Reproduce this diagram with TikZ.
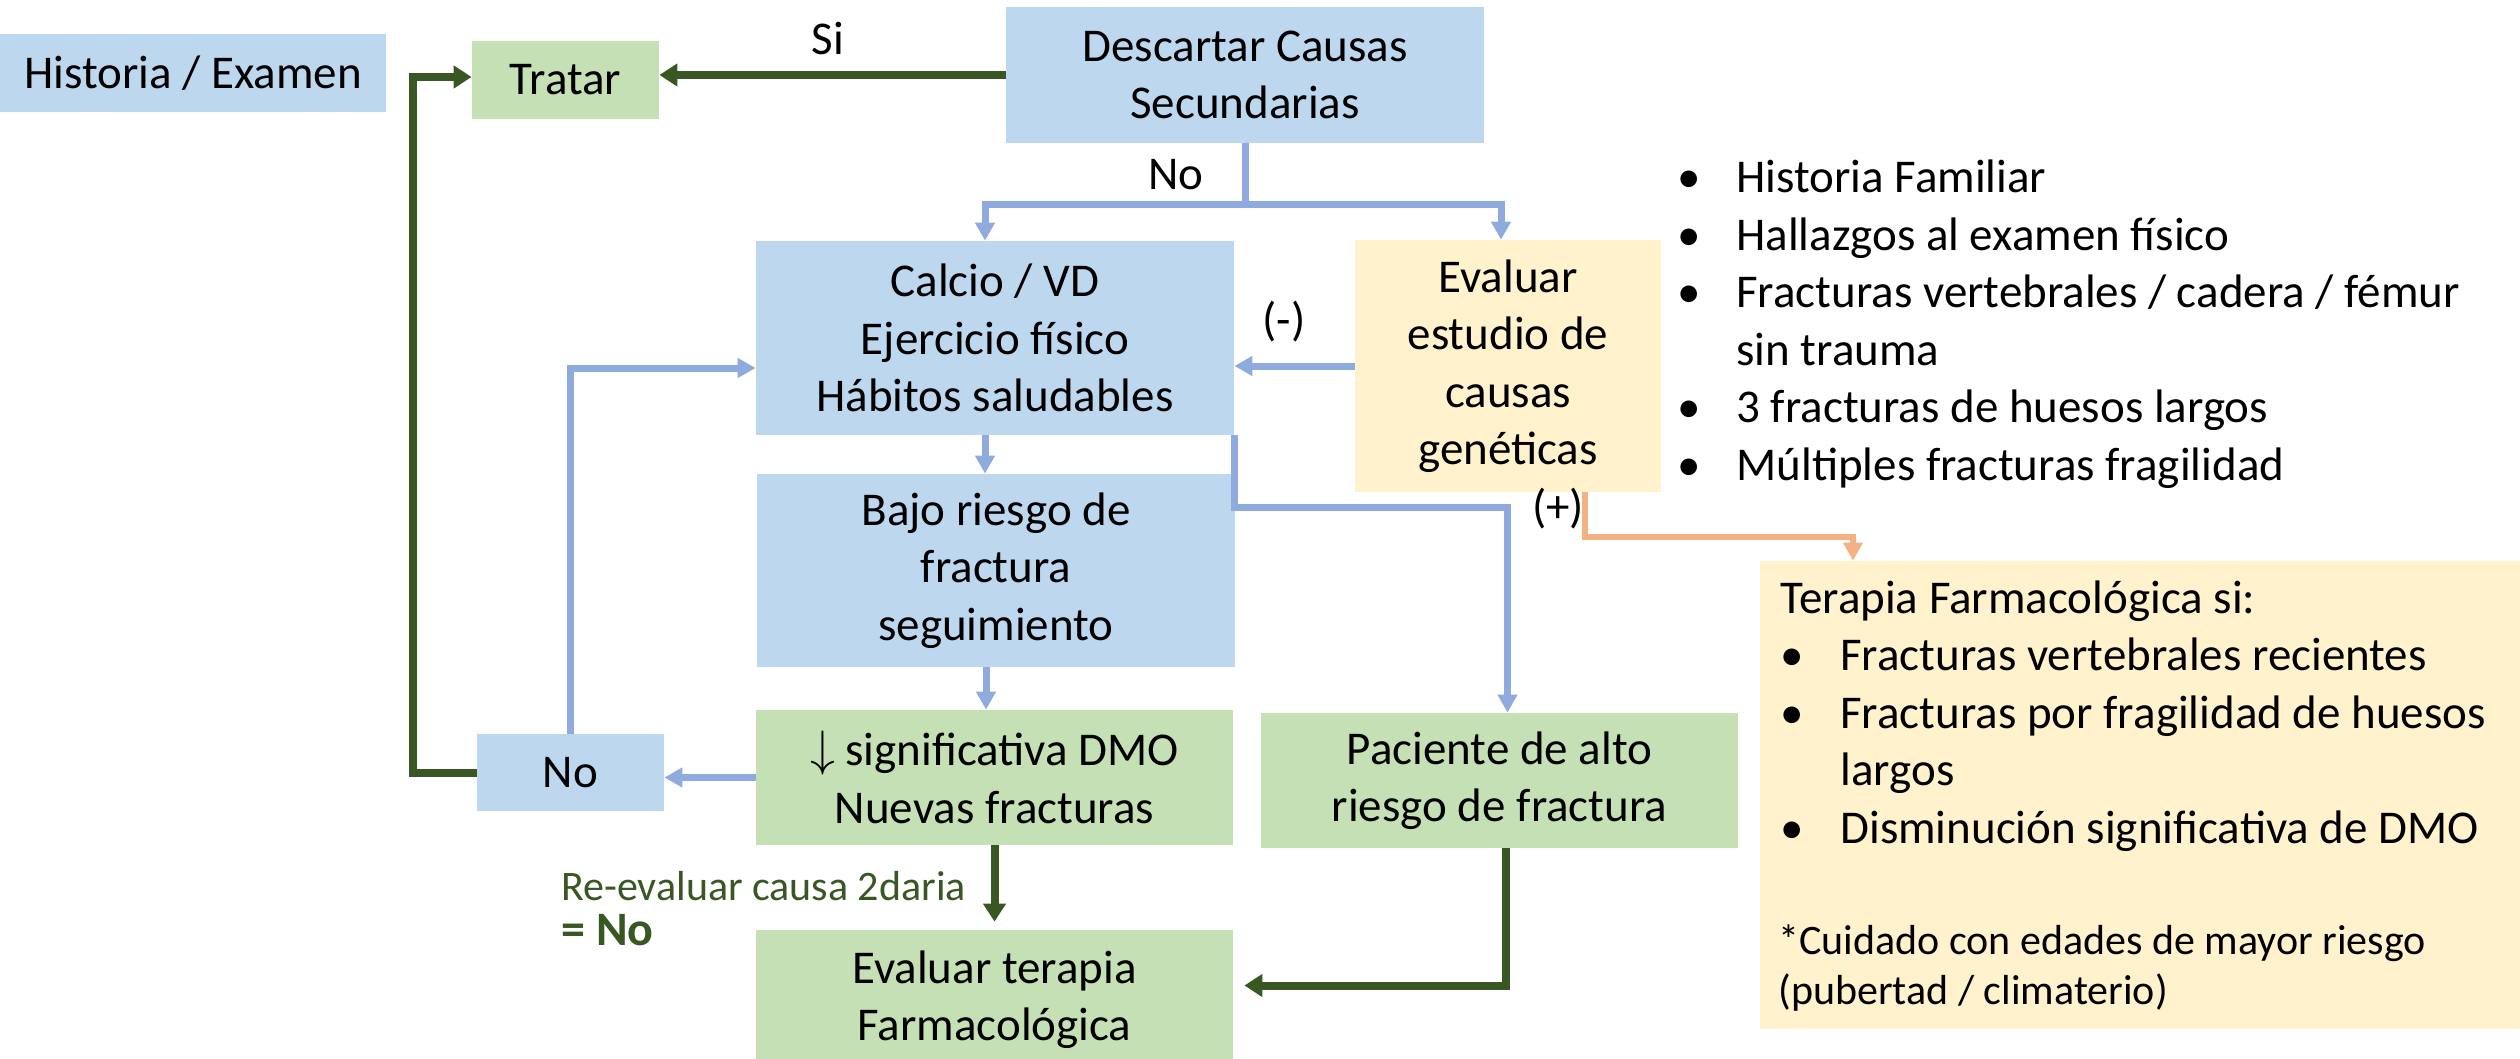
\documentclass[tikz,border=0pt]{standalone}
\usepackage{fontspec}
\setmainfont{Carlito}
\usepackage{xcolor}
\usetikzlibrary{arrows.meta,positioning,calc}

\definecolor{boxblue}{HTML}{BDD7EE}
\definecolor{boxgreen}{HTML}{C5E0B4}
\definecolor{boxyellow}{HTML}{FFF2CC}
\definecolor{lineblue}{HTML}{8FAADC}
\definecolor{linegreen}{HTML}{385723}
\definecolor{lineorange}{HTML}{F4B183}

\newcommand\flowfont{\fontsize{23.5}{28.75}\selectfont}
\newcommand\notefont{\fontsize{21}{25}\selectfont}

\begin{document}
\begin{tikzpicture}[
    >={Triangle[length=9pt,width=9.5pt]},
    x=0.5pt, y=-0.5pt,
    box/.style={rectangle,inner sep=0pt,align=center,font=\flowfont},
    bbox/.style={box,fill=boxblue},
    gbox/.style={box,fill=boxgreen},
    ybox/.style={box,fill=boxyellow},
    bline/.style={lineblue,line width=3.5pt},
    barrow/.style={->,bline},
    garrow/.style={-{Triangle[length=9pt,width=11pt]},linegreen,line width=4pt},
    oarrow/.style={->,lineorange,line width=3pt},
    lbl/.style={font=\flowfont,anchor=base,inner sep=0pt},
    bul/.style={font=\flowfont,align=left,anchor=base west,inner sep=0pt},
  ]
  \useasboundingbox (0,0) rectangle (2520,1059);

  % Top row: entry point, treatment and the secondary-cause check.
  \node[bbox,minimum width=193pt,minimum height=39pt] (hist) at (193,73) {Historia / Examen};
  \node[gbox,minimum width=93.5pt,minimum height=39pt] (tratar) at (565.5,80) {Tratar};
  \node[bbox,minimum width=239pt,minimum height=68pt] (descartar) at (1245,75) {Descartar Causas\\Secundarias};

  % Middle column: general measures and follow-up.
  \node[bbox,minimum width=239pt,minimum height=97pt] (calcio) at (995,338) {Calcio / VD\\Ejercicio físico\\Hábitos saludables};
  \node[ybox,minimum width=153pt,minimum height=126pt] (evalgen) at (1508,366) {Evaluar\\estudio de\\causas\\genéticas};
  \node[bbox,minimum width=239pt,minimum height=96.5pt] (bajo) at (996,570.5) {Bajo riesgo de\\fractura\\seguimiento};
  \node[gbox,minimum width=238.5pt,minimum height=67.5pt] (dmo) at (994.5,777.5) {$\downarrow$ significativa DMO\\Nuevas fracturas};
  \node[gbox,minimum width=238.5pt,minimum height=67.5pt] (alto) at (1499.5,780.5) {Paciente de alto\\riesgo de fractura};
  \node[bbox,minimum width=93.5pt,minimum height=38.5pt] (nobox) at (570.5,772.5) {No};
  \node[gbox,minimum width=238.5pt,minimum height=69.5pt] (evalter) at (994.5,999.5) {Evaluar terapia\\Farmacológica};

  % Right side: genetic-cause criteria and drug therapy box.
  % (multi-line text sits on the baseline of its last line)
  \node[bul] (criterios) at (1677,480) {%
    \makebox[29.5pt][l]{\textbullet}Historia Familiar\\
    \makebox[29.5pt][l]{\textbullet}Hallazgos al examen físico\\
    \makebox[29.5pt][l]{\textbullet}Fracturas vertebrales / cadera / fémur\\
    \hspace*{29.5pt}sin trauma\\
    \makebox[29.5pt][l]{\textbullet}3 fracturas de huesos largos\\
    \makebox[29.5pt][l]{\textbullet}Múltiples fracturas fragilidad};

  \node[ybox,minimum width=380pt,minimum height=234pt] (terapia) at (2140,795) {};
  \node[bul] (terapialist) at (1780,843) {%
    Terapia Farmacológica si:\\
    \makebox[30pt][l]{\textbullet}Fracturas vertebrales recientes\\
    \makebox[30pt][l]{\textbullet}Fracturas por fragilidad de huesos\\
    \hspace*{30pt}largos\\
    \makebox[30pt][l]{\textbullet}Disminución significativa de DMO};
  \node[bul,font=\notefont] (terapianote) at (1778,1004) {%
    *Cuidado con edades de mayor riesgo\\
    (pubertad / climaterio)};

  % --- blue flow ---
  \draw[bline] (descartar.south) -- ++(0,61) coordinate (nosplit);
  \draw[barrow] (nosplit) -| ([xshift=-5pt]calcio.north);
  \draw[barrow] (nosplit) -| ([xshift=-3.5pt]evalgen.north);
  \draw[barrow] (evalgen.west) -- (evalgen.west -| calcio.east);
  \draw[barrow] ([xshift=-5pt]calcio.south) -- ([xshift=-5pt]calcio.south |- bajo.north);
  \draw[barrow] (calcio.south east) -- ++(0,72) -| ([xshift=4pt]alto.north);
  \draw[barrow] ([xshift=-5pt]bajo.south) -- ([xshift=-5pt]bajo.south |- dmo.north);
  \draw[barrow] (dmo.west) -- (dmo.west -| nobox.east);
  \draw[barrow] (nobox.north) |- ([yshift=-15pt]calcio.west);

  % --- green flow ---
  \draw[garrow] (descartar.west) -- (descartar.west -| tratar.east);
  \draw[garrow] (nobox.west) -- ++(-64,0) |- ([yshift=1.5pt]tratar.west);
  \draw[garrow,shorten >=4pt] (dmo.south) -- (evalter.north);
  \draw[garrow] ([xshift=3pt]alto.south) |- ([xshift=5.5pt,yshift=7pt]evalter.east);

  % --- orange flow ---
  \draw[oarrow] ([xshift=38.5pt]evalgen.south) -- ++(0,45) -| ([xshift=-143.5pt]terapia.north);

  % --- connector labels ---
  \node[lbl] (si) at (828,55) {Si};
  \node[lbl] (nolbl) at (1176,190) {No};
  \node[lbl] (neg) at (1284,335) {(-)};
  \node[lbl] (pos) at (1558,522) {(+)};
  \node[bul,font={\fontsize{21}{22.5}\selectfont},text=linegreen] (reeval) at (561,945)
    {Re-evaluar causa 2daria\\{\fontsize{24}{24}\selectfont\bfseries = No}};

\end{tikzpicture}
\end{document}
